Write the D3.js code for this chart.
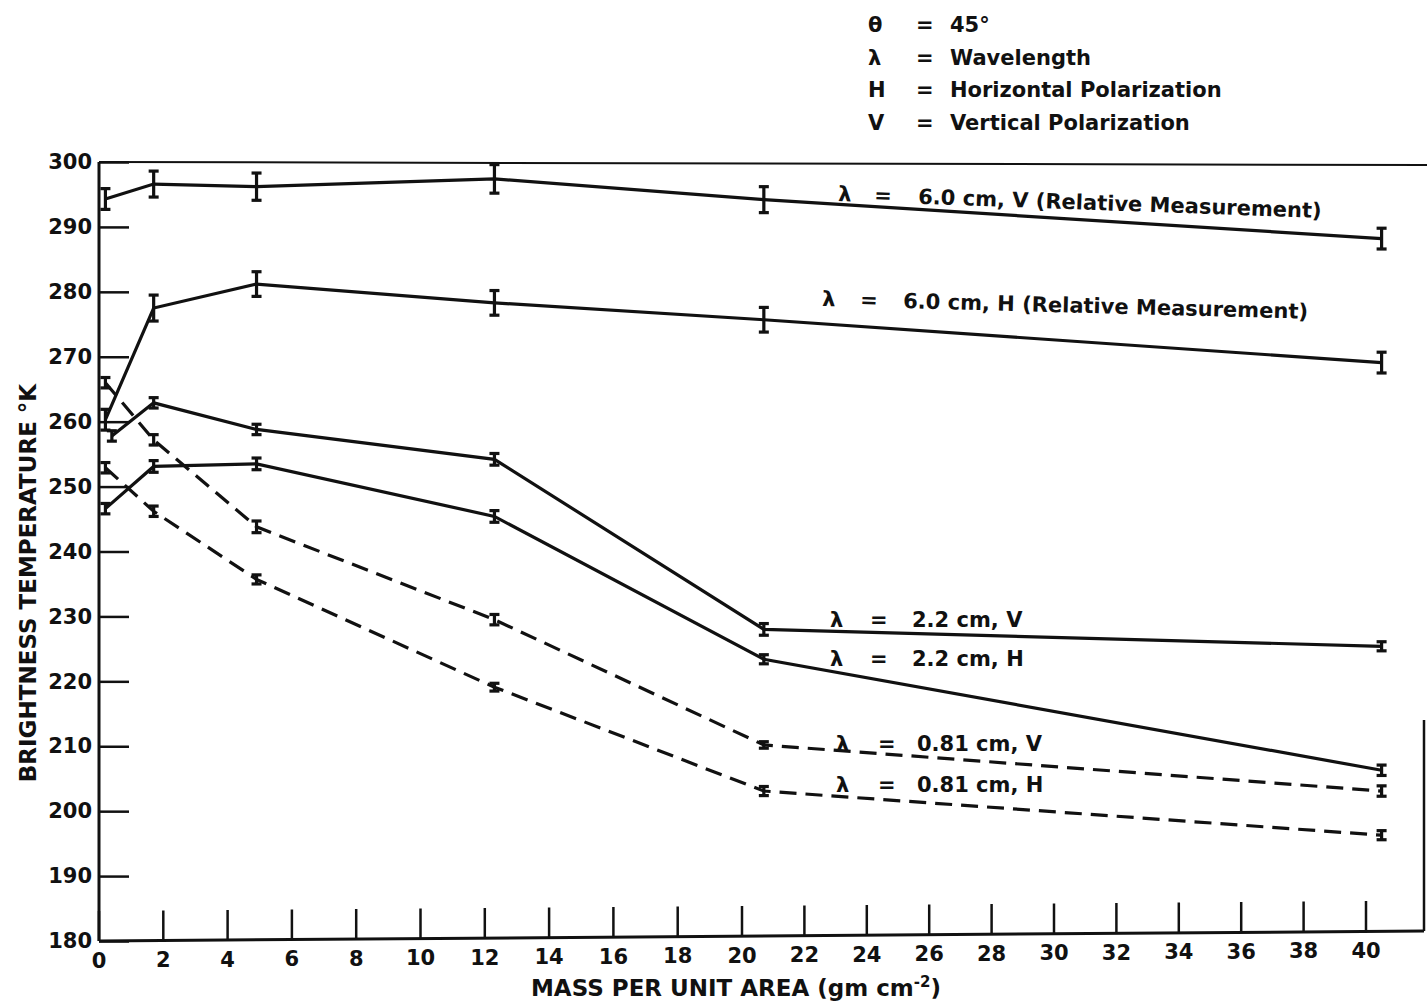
<!DOCTYPE html>
<html>
<head>
<meta charset="utf-8">
<script src="https://cdn.jsdelivr.net/npm/d3@7"></script>
<style>
  body { margin: 0; background: #fff; }
  svg text { font-family: "DejaVu Sans", sans-serif; font-weight: bold; fill: #111; }
</style>
</head>
<body>
<div id="chart"></div>
<script>
const W = 1427, H = 1002;

// mass per unit area (gm cm^-2) of each measurement
const massX = [0.2, 1.7, 4.9, 12.3, 20.7, 40.5];
const massX22V = [0.4, 1.7, 4.9, 12.3, 20.7, 40.5];

// brightness temperature (K)
const tb60V = [294.3, 296.6, 296.2, 297.4, 294.2, 288.2];
const tb60H = [260.3, 277.5, 281.2, 278.3, 275.7, 269.1];
const tb22V = [257.8, 262.9, 258.8, 254.2, 228.0, 225.4];
const tb22H = [246.6, 253.1, 253.5, 245.4, 223.4, 206.3];
const tb081V = [266.0, 257.2, 243.8, 229.5, 210.2, 203.1];
const tb081H = [252.9, 246.2, 235.7, 219.1, 203.1, 196.3];

// half length of the error bars (K)
const err60V = [1.6, 2.0, 2.1, 2.2, 2.0, 1.6];
const err60H = [1.6, 2.0, 1.9, 1.9, 1.9, 1.6];
const err22V = [0.8, 0.8, 0.8, 0.9, 0.9, 0.7];
const err22H = [0.8, 0.9, 0.9, 0.9, 0.7, 0.8];
const err081V = [0.8, 0.8, 0.9, 0.8, 0.5, 0.8];
const err081H = [0.8, 0.8, 0.7, 0.6, 0.7, 0.7];

const xTicks = d3.range(0, 41, 2);
const yTicks = d3.range(180, 301, 10);

const legendSym = ['\u03b8', '\u03bb', 'H', 'V'];
const legendText = ['45\u00b0', 'Wavelength', 'Horizontal Polarization', 'Vertical Polarization'];

const series = [
    { xs: massX, ys: tb60V, es: err60V, dashed: false, label: '6.0 cm, V (Relative Measurement)' },
    { xs: massX, ys: tb60H, es: err60H, dashed: false, label: '6.0 cm, H (Relative Measurement)' },
    { xs: massX22V, ys: tb22V, es: err22V, dashed: false, label: '2.2 cm, V' },
    { xs: massX, ys: tb22H, es: err22H, dashed: false, label: '2.2 cm, H' },
    { xs: massX, ys: tb081V, es: err081V, dashed: true, label: '0.81 cm, V' },
    { xs: massX, ys: tb081H, es: err081H, dashed: true, label: '0.81 cm, H' }
];

// the scanned axis is a little wider on the left half
const x = d3.scaleLinear().domain([0, 20, 40]).range([99, 742, 1366]);
const y = d3.scaleLinear().domain([180, 300]).range([941, 162]);

const svg = d3.select('#chart')
    .append('svg')
    .attr('width', W)
    .attr('height', H);

// frame
const frame = svg.append('g').attr('stroke', '#111').attr('stroke-width', 3).attr('fill', 'none');
frame.append('line').attr('x1', x(0)).attr('x2', x(0)).attr('y1', y(300)).attr('y2', y(180));
frame.append('line').attr('x1', x(0)).attr('x2', 1424).attr('y1', y(180)).attr('y2', y(180) - 10);
frame.append('line').attr('x1', x(0)).attr('x2', 1427).attr('y1', y(300)).attr('y2', y(300) + 3).attr('stroke-width', 2);
frame.append('line').attr('x1', 1424).attr('x2', 1424).attr('y1', 720).attr('y2', y(180) - 10).attr('stroke-width', 2.5);

// axes with inward ticks
const xAxis = svg.append('g')
    .attr('transform', `translate(0,${y(180)})`)
    .call(d3.axisBottom(x).tickValues(xTicks).tickSizeInner(-30).tickSizeOuter(0).tickPadding(9));

const yAxis = svg.append('g')
    .attr('transform', `translate(${x(0)},0)`)
    .call(d3.axisLeft(y).tickValues(yTicks).tickSizeInner(-30).tickSizeOuter(0).tickPadding(7));

[xAxis, yAxis].forEach(ax => {
    ax.attr('font-size', null).attr('font-family', null);
    ax.select('.domain').remove();
    ax.selectAll('.tick line').attr('stroke', '#111').attr('stroke-width', 2.5);
    ax.selectAll('.tick text').style('font-size', '21px');
});
xAxis.selectAll('.tick text').attr('dy', '0.85em');
// the scanned baseline rises slightly to the right
xAxis.selectAll('.tick').attr('transform', d => `translate(${x(d)},${-d / 4})`);

// lines
const line = d3.line().x(d => x(d[0])).y(d => y(d[1]));

series.forEach(s => {
    const pts = s.xs.map((v, i) => [v, s.ys[i], s.es[i]]);
    svg.append('path')
        .datum(pts)
        .attr('d', line)
        .attr('fill', 'none')
        .attr('stroke', '#111')
        .attr('stroke-width', 3.2)
        .attr('stroke-dasharray', s.dashed ? '17,9' : null);

    const bars = svg.append('g').selectAll('g')
        .data(pts)
        .join('g')
        .attr('stroke', '#111')
        .attr('stroke-width', 3.2);
    bars.append('line')
        .attr('x1', d => x(d[0])).attr('x2', d => x(d[0]))
        .attr('y1', d => y(d[1] - d[2])).attr('y2', d => y(d[1] + d[2]));
    bars.append('line')
        .attr('x1', d => x(d[0]) - 5).attr('x2', d => x(d[0]) + 5)
        .attr('y1', d => y(d[1] - d[2])).attr('y2', d => y(d[1] - d[2]));
    bars.append('line')
        .attr('x1', d => x(d[0]) - 5).attr('x2', d => x(d[0]) + 5)
        .attr('y1', d => y(d[1] + d[2])).attr('y2', d => y(d[1] + d[2]));
});

// curve labels: lambda, equals sign, then the text
const labelPos = [
    { x: 838, y: 201, eq: 36, txt: 80, rot: 2 },
    { x: 822, y: 306, eq: 38, txt: 81, rot: 1.5 },
    { x: 830, y: 627, eq: 40, txt: 82, rot: 0 },
    { x: 830, y: 666, eq: 40, txt: 82, rot: 0 },
    { x: 836, y: 751, eq: 42, txt: 81, rot: 0 },
    { x: 836, y: 792, eq: 42, txt: 81, rot: 0 }
];

series.forEach((s, i) => {
    const p = labelPos[i];
    const g = svg.append('g')
        .attr('transform', `translate(${p.x},${p.y}) rotate(${p.rot})`)
        .style('font-size', '21px');
    g.append('text').attr('x', 0).text('\u03bb');
    g.append('text').attr('x', p.eq).text('=');
    g.append('text').attr('x', p.txt).text(s.label);
});

// key at the top
const key = svg.append('g').style('font-size', '21px');
legendSym.forEach((sym, i) => {
    const by = 32 + i * 32.5;
    key.append('text').attr('x', 868).attr('y', by).text(sym);
    key.append('text').attr('x', 916).attr('y', by).text('=');
    key.append('text').attr('x', 950).attr('y', by).text(legendText[i]);
});

// axis titles
svg.append('text')
    .attr('transform', 'translate(36,583) rotate(-90)')
    .attr('text-anchor', 'middle')
    .style('font-size', '23px')
    .text('BRIGHTNESS TEMPERATURE \u00b0K');

const xt = svg.append('text')
    .attr('x', 736)
    .attr('y', 996)
    .attr('text-anchor', 'middle')
    .style('font-size', '23px');
xt.append('tspan').text('MASS PER UNIT AREA (gm cm');
xt.append('tspan').attr('dy', -9).style('font-size', '15px').text('-2');
xt.append('tspan').attr('dy', 9).text(')');
</script>
</body>
</html>
